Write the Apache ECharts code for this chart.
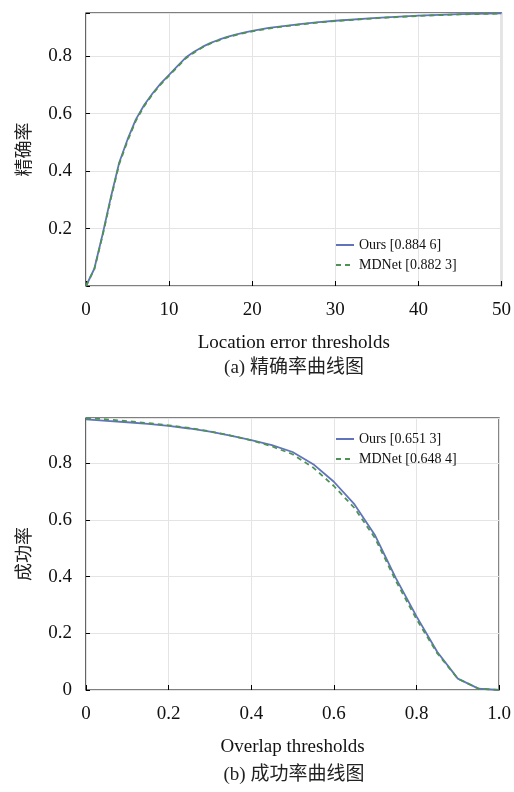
<!DOCTYPE html>
<html><head><meta charset="utf-8">
<script src="https://cdn.jsdelivr.net/npm/echarts@6/dist/echarts.min.js"></script>
<style>html,body{margin:0;padding:0;background:#fff}#c{width:514px;height:792px}</style>
</head><body><div id="c"></div>
<script>
// (a) precision: location error thresholds
var precX = [0,1,2,3,4,5,6,7,8,9,10,11,12,13,14,15,16,17,18,19,20,22,24,26,28,30,35,40,45,50];
var precOurs = [0.0,0.06,0.18,0.31,0.43,0.51,0.58,0.63,0.67,0.705,0.735,0.765,0.795,0.815,0.832,0.846,0.857,0.867,0.875,0.882,0.888,0.898,0.905,0.912,0.918,0.923,0.933,0.941,0.946,0.949];
var precMDNet = [0.0,0.058,0.176,0.305,0.425,0.505,0.575,0.626,0.667,0.702,0.732,0.762,0.792,0.812,0.83,0.844,0.855,0.865,0.873,0.88,0.886,0.896,0.904,0.911,0.917,0.922,0.932,0.94,0.945,0.948];
// (b) success: overlap thresholds
var succX = [0,0.05,0.1,0.15,0.2,0.25,0.3,0.35,0.4,0.45,0.5,0.55,0.6,0.65,0.7,0.75,0.8,0.85,0.9,0.95,1.0];
var succOurs = [0.955,0.95,0.945,0.939,0.932,0.923,0.912,0.898,0.882,0.864,0.84,0.797,0.735,0.655,0.545,0.395,0.26,0.135,0.04,0.005,0.0];
var succMDNet = [0.96,0.955,0.949,0.942,0.934,0.925,0.913,0.898,0.881,0.86,0.832,0.785,0.72,0.642,0.535,0.385,0.25,0.13,0.04,0.005,0.0];
var legendA = ['Ours [0.884 6]','MDNet [0.882 3]'];
var legendB = ['Ours [0.651 3]','MDNet [0.648 4]'];
var captions = ['(a) 精确率曲线图', '(b) 成功率曲线图'];

function pairs(xs, ys){ return xs.map(function(x,i){return [x, ys[i]];}); }
var serif = 'Liberation Serif, Noto Sans CJK SC';
var cjk = 'Noto Sans CJK SC';
var blue = '#5f74bb', green = '#4f9354';

function yAxis(gi, max, name, hideZero){
  return {
    type:'value', gridIndex:gi, min:0, max:max, interval:0.2,
    name:name, nameLocation:'middle', nameRotate:90, nameGap:54,
    nameTextStyle:{fontFamily:cjk, fontSize:18, color:'#222'},
    axisLine:{show:false},
    axisTick:{show:true, inside:true, length:4, lineStyle:{color:'#000'}},
    axisLabel:{fontFamily:serif, fontSize:19, color:'#111', margin:14,
      formatter:function(v){
        var r = Math.round(v*10)/10;
        if (Math.abs(v - r) > 1e-6 || Math.round(v*10)%2!==0) return '';
        if (r===0) return hideZero ? '' : '0';
        return r.toFixed(1);
      }},
    splitLine:{show:true, lineStyle:{color:'#e4e4e4'}}
  };
}
function xAxis(gi, max, interval, name, fmt){
  return {
    type:'value', gridIndex:gi, min:0, max:max, interval:interval,
    name:name, nameLocation:'middle', nameGap:48,
    nameTextStyle:{fontFamily:serif, fontSize:19, color:'#111'},
    axisLine:{show:false},
    axisTick:{show:true, inside:true, length:5, lineStyle:{color:'#000'}},
    axisLabel:{fontFamily:serif, fontSize:19, color:'#111', margin:15, formatter:fmt},
    splitLine:{show:true, lineStyle:{color:'#e4e4e4'}}
  };
}
function line(name, xi, data, color, dashed){
  return {
    type:'line', name:name, xAxisIndex:xi, yAxisIndex:xi, data:data,
    showSymbol:false, symbol:'none', smooth:false, animation:false,
    lineStyle:{color:color, width:1.8, type: dashed ? [5,4] : 'solid'},
    itemStyle:{color:color}, z: dashed ? 3 : 2
  };
}
function legend(data, top){
  return {data:data, orient:'vertical', left:330, top:top, itemWidth:18, itemHeight:10, itemGap:6,
    textStyle:{fontFamily:serif, fontSize:14, color:'#111'}, selectedMode:false,
    itemStyle:{opacity:0}};
}
function caption(text, y){
  return {type:'text', x:294, y:y, style:{text:text, textAlign:'center', textVerticalAlign:'middle',
    font:'19px "Liberation Serif", "Noto Sans CJK SC"', fill:'#222'}};
}

var chart = echarts.init(document.getElementById('c'), null, {renderer:'canvas'});
chart.setOption({
  backgroundColor:'#fff',
  animation:false,
  grid:[
    {left:86, right:12, top:13, height:273, show:true, borderColor:'#000', borderWidth:1.2, backgroundColor:'transparent'},
    {left:86, right:12, top:418, height:272, show:true, borderColor:'#000', borderWidth:1.2, backgroundColor:'transparent'}
  ],
  xAxis:[
    xAxis(0, 50, 10, 'Location error thresholds', function(v){ return String(v); }),
    xAxis(1, 1, 0.2, 'Overlap thresholds', function(v){ return v===0 ? '0' : (Math.round(v*10)/10).toFixed(1); })
  ],
  yAxis:[ yAxis(0, 0.95, '精确率', true), yAxis(1, 0.96, '成功率', false) ],
  legend:[ legend(legendA, 233), legend(legendB, 427) ],
  graphic:[ caption(captions[0], 368), caption(captions[1], 775) ],
  series:[
    line(legendA[0], 0, pairs(precX, precOurs), blue, false),
    line(legendA[1], 0, pairs(precX, precMDNet), green, true),
    line(legendB[0], 1, pairs(succX, succOurs), blue, false),
    line(legendB[1], 1, pairs(succX, succMDNet), green, true)
  ]
});
</script></body></html>
